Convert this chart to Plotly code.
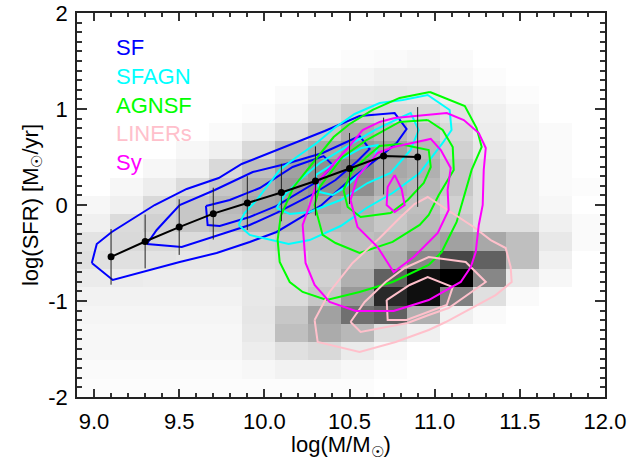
import numpy as np
import plotly.graph_objects as go

# ---------------- data ----------------
# 2D histogram of all galaxies (darkness %, rows from log SFR = -2 upward, columns from log M = 8.9)
mass_edges = np.linspace(8.9, 12.0, 17)
sfr_edges = np.linspace(-2.0, 2.0, 22)
density = [
    [1, 1, 1, 1, 1, 1, 1, 1, 1, 0, 0, 0, 0, 0, 0, 0],
    [2, 2, 2, 2, 2, 3, 5, 5, 3, 1, 0, 0, 0, 0, 0, 0],
    [3, 3, 3, 3, 3, 7, 12, 15, 8, 3, 0, 0, 0, 0, 0, 0],
    [3, 3, 3, 3, 3, 9, 25, 33, 28, 12, 6, 0, 0, 0, 0, 0],
    [4, 4, 4, 4, 4, 10, 22, 37, 56, 62, 31, 6, 2, 0, 0, 0],
    [5, 5, 5, 5, 5, 9, 14, 22, 40, 84, 94, 50, 12, 2, 0, 0],
    [8, 8, 7, 7, 7, 9, 13, 18, 31, 62, 94, 100, 47, 9, 3, 0],
    [12, 12, 11, 10, 10, 12, 15, 20, 25, 31, 47, 72, 62, 25, 6, 0],
    [11, 15, 15, 14, 15, 18, 22, 22, 25, 27, 33, 37, 34, 25, 9, 2],
    [6, 14, 18, 22, 25, 28, 28, 28, 28, 22, 27, 22, 12, 12, 6, 2],
    [3, 6, 15, 22, 27, 34, 37, 34, 31, 25, 25, 18, 12, 6, 3, 0],
    [0, 3, 7, 14, 22, 31, 40, 44, 44, 31, 28, 22, 12, 6, 2, 1],
    [0, 0, 3, 6, 15, 25, 37, 44, 47, 34, 31, 22, 12, 6, 2, 0],
    [0, 0, 0, 3, 6, 15, 28, 34, 40, 37, 28, 18, 9, 6, 2, 0],
    [0, 0, 0, 0, 2, 6, 12, 22, 33, 28, 22, 15, 7, 4, 2, 0],
    [0, 0, 0, 0, 0, 1, 4, 12, 18, 15, 15, 11, 6, 3, 0, 0],
    [0, 0, 0, 0, 0, 0, 2, 8, 9, 10, 9, 6, 3, 1, 0, 0],
    [0, 0, 0, 0, 0, 0, 0, 3, 4, 6, 6, 3, 1, 0, 0, 0],
    [0, 0, 0, 0, 0, 0, 0, 0, 1, 2, 3, 2, 0, 0, 0, 0],
    [0, 0, 0, 0, 0, 0, 0, 0, 0, 0, 0, 0, 0, 0, 0, 0],
    [0, 0, 0, 0, 0, 0, 0, 0, 0, 0, 0, 0, 0, 0, 0, 0],
]

# contour levels per class (outer, middle, inner)
sf_x = [
    [8.987, 9.016, 9.104, 9.309, 9.356, 9.544, 9.732, 9.867, 10.072, 10.248, 10.354, 10.559, 10.765, 10.835,
     10.776, 10.677, 10.501, 10.336, 10.207, 10.072, 9.914, 9.720, 9.503, 9.309, 9.110],
    [9.310, 9.368, 9.427, 9.503, 9.709, 9.932, 10.125, 10.342, 10.559, 10.618, 10.547, 10.418, 10.266,
     10.072, 9.914, 9.720, 9.515],
    [9.657, 9.797, 9.973, 10.166, 10.348, 10.401, 10.325, 10.207, 10.072, 9.914, 9.738, 9.667],
]
sf_y = [
    [-0.604, -0.406, -0.281, -0.052, 0.0, 0.167, 0.281, 0.427, 0.573, 0.698, 0.771, 0.927, 0.958, 0.792,
     0.646, 0.500, 0.260, 0.0, -0.135, -0.281, -0.385, -0.500, -0.594, -0.688, -0.781],
    [-0.406, -0.260, -0.146, 0.0, 0.156, 0.344, 0.427, 0.542, 0.719, 0.583, 0.458, 0.260, 0.094,
     -0.083, -0.208, -0.323, -0.438],
    [-0.010, 0.052, 0.177, 0.396, 0.510, 0.417, 0.260, 0.135, -0.010, -0.125, -0.219, -0.208],
]
sfagn_x = [
    [9.849, 9.884, 9.955, 10.025, 10.090, 10.190, 10.307, 10.412, 10.530, 10.677, 10.812, 10.959, 11.088,
     11.099, 11.047, 10.912, 10.753, 10.600, 10.448, 10.266, 10.143, 9.914],
    [10.072, 10.119, 10.207, 10.325, 10.471, 10.647, 10.794, 10.859, 10.906, 10.859, 10.741, 10.606,
     10.448, 10.266, 10.149],
    [10.301, 10.325, 10.401, 10.477, 10.571, 10.653, 10.665, 10.571, 10.442],
]
sfagn_y = [
    [-0.208, -0.083, 0.052, 0.219, 0.365, 0.500, 0.646, 0.802, 0.948, 1.062, 1.094, 1.146, 0.990,
     0.781, 0.646, 0.333, 0.125, -0.031, -0.219, -0.365, -0.406, -0.312],
    [-0.031, 0.104, 0.260, 0.438, 0.594, 0.781, 0.906, 0.958, 0.781, 0.573, 0.333, 0.229,
     0.052, -0.073, -0.094],
    [0.312, 0.135, 0.104, 0.188, 0.344, 0.521, 0.625, 0.594, 0.469],
]
agnsf_x = [
    [10.972, 11.177, 11.246, 11.276, 11.217, 11.159, 11.129, 11.082, 11.041, 10.965, 10.753, 10.559, 10.366,
     10.225, 10.149, 10.090, 10.078, 10.096, 10.172, 10.266, 10.407, 10.501, 10.636, 10.794],
    [10.959, 11.047, 11.106, 11.112, 11.024, 10.965, 10.912, 10.753, 10.559, 10.418, 10.342, 10.295,
     10.325, 10.459, 10.600, 10.794],
    [10.465, 10.512, 10.594, 10.677, 10.794, 10.965, 10.977, 10.936, 10.842, 10.741, 10.565, 10.489],
]
agnsf_y = [
    [1.177, 1.031, 0.802, 0.604, 0.365, 0.0, -0.177, -0.344, -0.490, -0.625, -0.802, -0.906, -0.990,
     -0.906, -0.802, -0.594, -0.365, -0.115, 0.188, 0.396, 0.708, 0.844, 0.990, 1.115],
    [0.885, 0.781, 0.604, 0.365, 0.104, -0.104, -0.208, -0.385, -0.500, -0.396, -0.312, 0.0,
     0.188, 0.500, 0.677, 0.865],
    [0.156, 0.344, 0.490, 0.615, 0.635, 0.573, 0.396, 0.229, 0.052, -0.083, -0.125, -0.021],
]
liner_x = [
    [10.295, 10.383, 10.518, 10.677, 10.794, 10.882, 10.959, 11.106, 11.229, 11.329, 11.417, 11.446, 11.452,
     11.358, 11.217, 11.065, 10.965, 10.771, 10.559, 10.313],
    [10.506, 10.589, 10.712, 10.824, 10.965, 11.182, 11.300, 11.217, 11.082, 10.965, 10.841, 10.565],
    [10.718, 10.853, 10.959, 11.106, 11.071, 10.835, 10.724],
]
liner_y = [
    [-1.198, -0.906, -0.604, -0.344, -0.135, 0.010, 0.083, -0.083, -0.229, -0.365, -0.448, -0.646, -0.802,
     -0.938, -1.073, -1.219, -1.302, -1.427, -1.531, -1.427],
    [-1.219, -1.010, -0.802, -0.656, -0.542, -0.594, -0.802, -0.906, -1.073, -1.146, -1.229, -1.323],
    [-0.990, -0.833, -0.750, -0.854, -1.042, -1.198, -1.198],
]
sy_x = [
    [10.765, 11.071, 11.171, 11.259, 11.300, 11.288, 11.282, 11.259, 11.241, 11.212, 11.153, 11.041, 10.965,
     10.759, 10.536, 10.383, 10.295, 10.242, 10.225, 10.266, 10.307, 10.401, 10.501, 10.577, 10.677],
    [10.506, 10.547, 10.665, 10.759, 10.977, 11.036, 11.094, 11.076, 11.082, 11.018, 10.877, 10.759,
     10.665, 10.547],
    [10.765, 10.806, 10.824, 10.765, 10.718, 10.724],
]
sy_y = [
    [0.906, 0.958, 0.885, 0.750, 0.594, 0.365, 0.0, -0.208, -0.490, -0.646, -0.802, -0.917, -0.990,
     -1.104, -1.104, -1.010, -0.833, -0.604, -0.208, 0.0, 0.229, 0.417, 0.615, 0.781, 0.865],
    [0.052, 0.292, 0.542, 0.604, 0.688, 0.573, 0.385, 0.156, -0.052, -0.292, -0.542, -0.698,
     -0.438, -0.229],
    [0.312, 0.167, 0.0, -0.073, 0.0, 0.188],
]

# median relation of star-forming galaxies
mean_mass = [9.1, 9.3, 9.5, 9.7, 9.9, 10.1, 10.3, 10.5, 10.7, 10.9]
mean_sfr = [-0.54, -0.38, -0.23, -0.09, 0.02, 0.13, 0.25, 0.38, 0.51, 0.50]
sfr_scatter = [0.29, 0.28, 0.29, 0.27, 0.28, 0.30, 0.36, 0.37, 0.40, 0.52]

class_names = ["SF", "SFAGN", "AGNSF", "LINERs", "Sy"]
class_colors = ["#0000FF", "#00FFFF", "#00FF00", "#FFC0CB", "#FF00FF"]
class_x = [sf_x, sfagn_x, agnsf_x, liner_x, sy_x]
class_y = [sf_y, sfagn_y, agnsf_y, liner_y, sy_y]

x_ticks = [9.0, 9.5, 10.0, 10.5, 11.0, 11.5, 12.0]
y_ticks = [-2, -1, 0, 1, 2]

# ---------------- figure ----------------
FONT = "Liberation Sans, Arial, Helvetica, sans-serif"
fig = go.Figure()

fig.add_trace(go.Heatmap(
    x=mass_edges, y=sfr_edges, z=density,
    colorscale=[[0, "rgb(255,255,255)"], [1, "rgb(0,0,0)"]],
    zmin=0, zmax=100, showscale=False, hoverinfo="skip",
))

for name, color, xs_list, ys_list in zip(class_names, class_colors, class_x, class_y):
    for xs, ys in zip(xs_list, ys_list):
        fig.add_trace(go.Scatter(
            x=list(xs) + [xs[0]], y=list(ys) + [ys[0]], mode="lines",
            line=dict(color=color, width=2), showlegend=False, hoverinfo="skip",
        ))

fig.add_trace(go.Scatter(
    x=mean_mass, y=mean_sfr, mode="lines+markers",
    line=dict(color="black", width=2),
    marker=dict(color="black", size=7),
    error_y=dict(type="data", array=sfr_scatter, visible=True, width=0, thickness=1, color="#222222"),
    showlegend=False, hoverinfo="skip",
))

for k, (name, color) in enumerate(zip(class_names, class_colors)):
    fig.add_annotation(
        x=9.12, y=1.64 - 0.3 * k, xref="x", yref="y", text=name, showarrow=False,
        xanchor="left", yanchor="middle", font=dict(family=FONT, size=22, color=color),
    )

axis_common = dict(
    showline=True, linecolor="#222222", linewidth=1.5, mirror="allticks",
    ticks="inside", tickcolor="#333333", tickwidth=1.5, showgrid=False, zeroline=False,
    tickfont=dict(family=FONT, size=22, color="black"),
)
fig.update_xaxes(
    range=[8.9, 12.0], tickvals=x_ticks, ticktext=[f"{v:.1f}" for v in x_ticks], ticklen=8,
    ticklabelstandoff=4,
    minor=dict(ticks="inside", ticklen=4, dtick=0.1, tick0=9.0, tickcolor="#333333", tickwidth=1.5),
    title=dict(text="log(M/M<sub>☉</sub>)", font=dict(family=FONT, size=22, color="black"), standoff=5),
    **axis_common,
)
fig.update_yaxes(
    range=[-2, 2], tickvals=y_ticks, ticktext=[str(v) for v in y_ticks], ticklen=10,
    ticklabelstandoff=3,
    minor=dict(ticks="inside", ticklen=5, dtick=0.1, tick0=0, tickcolor="#333333", tickwidth=1.5),
    title=dict(text="log(SFR) [M<sub>☉</sub>/yr]", font=dict(family=FONT, size=22, color="black"), standoff=4),
    **axis_common,
)
fig.update_layout(
    width=632, height=460, margin=dict(l=77, r=27, t=13, b=63, autoexpand=False),
    plot_bgcolor="white", paper_bgcolor="white", showlegend=False,
)

fig.write_html("out.html")
